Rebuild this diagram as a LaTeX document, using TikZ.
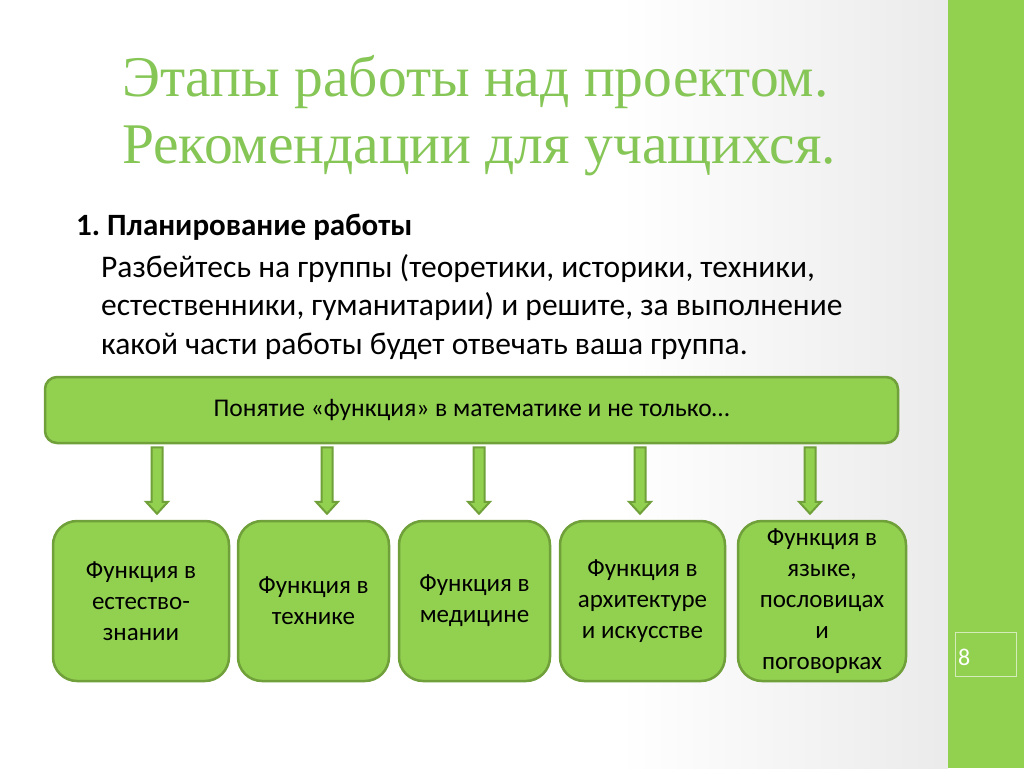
\documentclass[tikz,border=0pt]{standalone}
\usepackage{fontspec}
\setmainfont{Carlito}
\newfontfamily\titlefont{Liberation Serif}
\usepackage{xcolor}
\usepackage{tikz}
\usetikzlibrary{positioning,calc}

\definecolor{slidegreen}{RGB}{146,208,80}
\definecolor{edgegreen}{RGB}{112,160,58}
\definecolor{titlegreen}{RGB}{134,198,86}

\tikzset{
  topicbox/.style={draw=edgegreen, line width=2.5pt, fill=slidegreen, rounded corners=12pt,
    minimum width=853pt, minimum height=66pt, font=\fontsize{25.5}{30}\selectfont},
  funcbox/.style={draw=edgegreen, line width=2.5pt, fill=slidegreen, rounded corners=24pt,
    minimum height=160pt, align=center, font=\fontsize{25}{31}\selectfont},
  blkarrow/.style={draw=edgegreen, line width=2pt, fill=slidegreen, line join=miter}
}

% block arrow from shaft top (#1) to tip (#2)
\newcommand{\blockarrow}[2]{%
  \draw[blkarrow] ($(#1)+(-5.5,0)$) -- ($(#2)+(-5.5,-12)$) -- ($(#2)+(-11,-12)$) -- (#2)
    -- ($(#2)+(11,-12)$) -- ($(#2)+(5.5,-12)$) -- ($(#1)+(5.5,0)$) -- cycle;}

\begin{document}
\frenchspacing
\begin{tikzpicture}[x=1pt,y=-1pt]
    \useasboundingbox (0,0) rectangle (1024,768);
    % Background
    \fill[white] (0,0) rectangle (1024,768);
    \shade[left color=white, right color=black!8] (620,0) rectangle (948,768);
    \fill[slidegreen] (948,0) rectangle (1024,768);

    % Page number
    \draw[white, opacity=0.6, line width=0.8pt] (955,632) rectangle (1016,676);
    \node[anchor=base west, inner sep=0pt, text=white, font=\fontsize{24}{28}\selectfont] (pagenum) at (958,665) {8};

    % Title
    \node[anchor=base west, text=titlegreen, inner sep=0pt, font=\titlefont\fontsize{57.5}{64}\selectfont] (title1) at (122,96) {Этапы работы над проектом.};
    \node[anchor=base west, text=titlegreen, inner sep=0pt, font=\titlefont\fontsize{57.5}{64}\selectfont] (title2) at (122,163) {Рекомендации для учащихся.};

    % Text
    \node[anchor=base west, inner sep=0pt, font=\bfseries\fontsize{31}{36}\selectfont] (step) at (76,235) {1.\ Планирование работы};
    \node[anchor=base west, inner sep=0pt, align=left, font=\fontsize{31.5}{38.5}\selectfont] (advice) at (101,354)
      {Разбейтесь на группы (теоретики, историки, техники,\\
       естественники, гуманитарии) и решите, за выполнение\\
       какой части работы будет отвечать ваша группа.};

    % Topic bar
    \node[topicbox] (topic) at (471.5,410) {Понятие «функция» в математике и не только…};

    % Boxes
    \node[funcbox, minimum width=176pt] (f1) at (141,601) {Функция в\\естество-\\знании};
    \node[funcbox, minimum width=151pt] (f2) at (313.5,601) {Функция в\\технике};
    \node[funcbox, minimum width=151pt] (f3) at (474.5,601) {Функция в\\медицине};
    \node[funcbox, minimum width=165pt] (f4) at (642.5,601) {Функция в\\архитектуре\\и искусстве};
    \node[funcbox, minimum width=168pt] (f5) at (822,601) {Функция в\\языке,\\пословицах\\и\\поговорках};

    % Arrows
    \foreach \x/\b [count=\i] in {157/f1,327/f2,479/f3,640/f4,810/f5}{
      \coordinate (top\i) at ($(topic.south -| \x,0)+(0,3)$);
      \coordinate (tip\i) at ($(\b.north -| \x,0)+(0,-6)$);
      \blockarrow{top\i}{tip\i}
    }
\end{tikzpicture}
\end{document}
